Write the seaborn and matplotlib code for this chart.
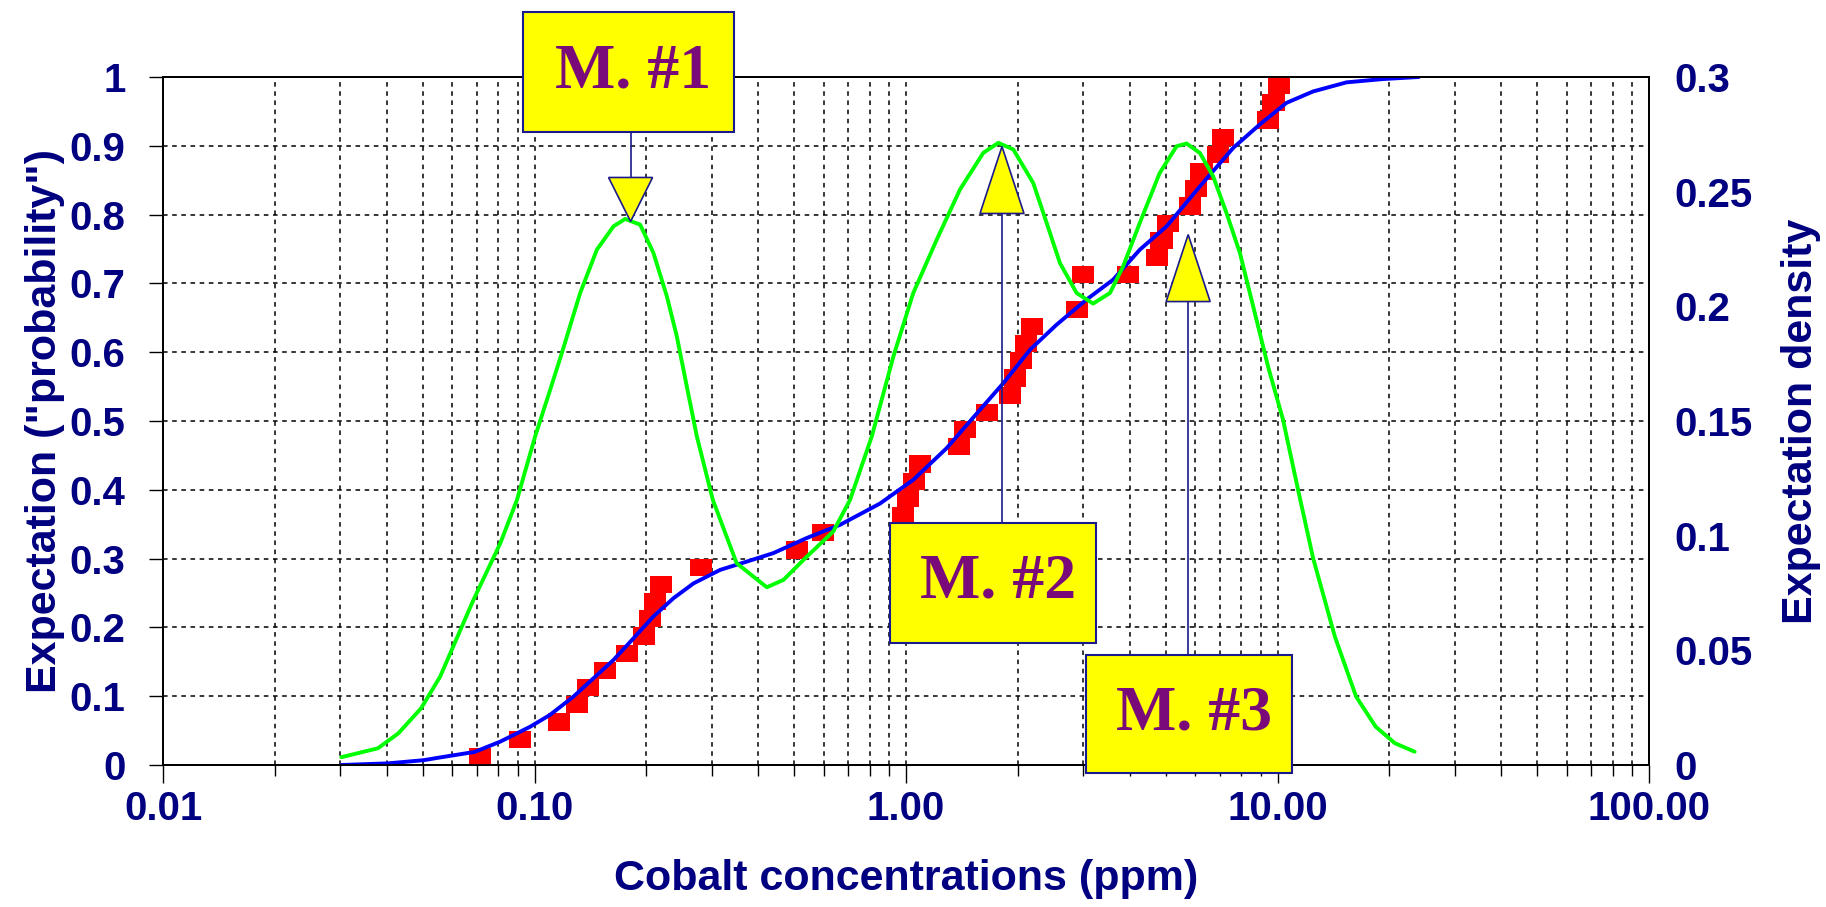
import numpy as np
import pandas as pd
import matplotlib
matplotlib.use("Agg")
import matplotlib.pyplot as plt
import seaborn as sns
from matplotlib.patches import Rectangle, Polygon
from matplotlib.lines import Line2D
from matplotlib.markers import MarkerStyle
from matplotlib.path import Path
from matplotlib.ticker import FixedLocator, LogLocator, NullFormatter

# --- values ---
# samples (red squares): concentration (ppm) and plotting position
sample_x = [0.0714, 0.0915, 0.1166, 0.130, 0.1395, 0.1547, 0.1776, 0.1968, 0.2043, 0.2112,
            0.2193, 0.2804, 0.508, 0.599, 0.982, 1.014, 1.052, 1.089, 1.389, 1.438,
            1.654, 1.904, 1.964, 2.04, 2.10, 2.18, 2.88, 2.99, 3.95, 4.73,
            4.875, 5.06, 5.81, 6.02, 6.24, 6.90, 7.14, 9.43, 9.75, 10.1]
sample_p = [0.0125, 0.0375, 0.0625, 0.0875, 0.1125, 0.1375, 0.1625, 0.1875, 0.2125, 0.2375,
            0.2625, 0.2875, 0.3125, 0.3375, 0.3625, 0.3875, 0.4125, 0.4375, 0.4625, 0.4875,
            0.5125, 0.5375, 0.5625, 0.5875, 0.6125, 0.6375, 0.6625, 0.7125, 0.7125, 0.7375,
            0.7625, 0.7875, 0.8125, 0.8375, 0.8625, 0.8875, 0.9125, 0.9375, 0.9625, 0.9875]

# fitted expectation (blue curve)
cdf_x = [0.0302, 0.0404, 0.0503, 0.0557, 0.069, 0.0809, 0.0974, 0.110, 0.1273, 0.1441,
         0.1632, 0.1846, 0.209, 0.2366, 0.268, 0.316, 0.373, 0.4396, 0.541, 0.664,
         0.851, 1.046, 1.287, 1.58, 1.828, 2.157, 2.543, 3.06, 3.61, 4.26,
         5.03, 6.18, 7.60, 8.96, 10.57, 12.47, 15.33, 19.2, 24.0]
cdf_p = [0.0, 0.0024, 0.007, 0.011, 0.019, 0.034, 0.0557, 0.0727, 0.0994, 0.126,
         0.1527, 0.184, 0.216, 0.2424, 0.264, 0.2836, 0.2957, 0.308, 0.33, 0.349,
         0.380, 0.4145, 0.4606, 0.516, 0.555, 0.6036, 0.64, 0.6764, 0.7054, 0.749,
         0.783, 0.841, 0.897, 0.931, 0.9624, 0.979, 0.9922, 0.997, 1.0]

# expectation density (green curve, right axis)
dens_x = [0.0302, 0.0379, 0.043, 0.0495, 0.0557, 0.0685, 0.0809, 0.0897, 0.1004, 0.1102,
          0.1185, 0.1327, 0.1472, 0.1632, 0.1754, 0.1925, 0.209, 0.2271, 0.2416, 0.257,
          0.2735, 0.302, 0.350, 0.422, 0.4677, 0.541, 0.637, 0.707, 0.809, 0.925,
          1.046, 1.21, 1.397, 1.614, 1.772, 1.945, 2.20, 2.391, 2.596, 2.879,
          3.19, 3.54, 3.84, 4.26, 4.82, 5.35, 5.69, 6.18, 6.71, 7.29,
          7.92, 8.60, 9.43, 10.35, 11.36, 12.47, 14.27, 16.28, 18.38, 20.7, 23.4]
dens_y = [0.0034, 0.0073, 0.0138, 0.0247, 0.0385, 0.072, 0.0967, 0.1156, 0.1433, 0.1636,
          0.1797, 0.2058, 0.2247, 0.2349, 0.2381, 0.2356, 0.2233, 0.2044, 0.1869, 0.1651,
          0.1433, 0.1156, 0.088, 0.0775, 0.0807, 0.0909, 0.1018, 0.1156, 0.1433, 0.1782,
          0.2058, 0.2291, 0.2509, 0.2669, 0.2713, 0.2684, 0.2538, 0.2364, 0.2189, 0.2058,
          0.2012, 0.2058, 0.2174, 0.2364, 0.2582, 0.2698, 0.271, 0.2669, 0.2567, 0.2407,
          0.2233, 0.2, 0.1738, 0.1505, 0.12, 0.0902, 0.056, 0.0298, 0.0167, 0.0095, 0.0058]

# modes marked by the yellow arrows
mode_x = [0.1814, 1.813, 5.748]
mode_tip = [0.790, 0.899, 0.771]
mode_labels = ["M. #1", "M. #2", "M. #3"]

x_ticks = [0.01, 0.1, 1, 10, 100]
x_ticklabels = ["0.01", "0.10", "1.00", "10.00", "100.00"]
left_ticks = [0, 0.1, 0.2, 0.3, 0.4, 0.5, 0.6, 0.7, 0.8, 0.9, 1]
left_ticklabels = ["0", "0.1", "0.2", "0.3", "0.4", "0.5", "0.6", "0.7", "0.8", "0.9", "1"]
right_ticks = [0, 0.05, 0.1, 0.15, 0.2, 0.25, 0.3]
right_ticklabels = ["0", "0.05", "0.1", "0.15", "0.2", "0.25", "0.3"]

samples = pd.DataFrame({"x": sample_x, "p": sample_p})
cdf = pd.DataFrame({"x": cdf_x, "p": cdf_p})
dens = pd.DataFrame({"x": dens_x, "d": dens_y})

NAVY = "#000080"
W, H = 1826, 907

sns.set_theme(style="white")
plt.rcParams['font.family'] = ['Liberation Sans', 'DejaVu Sans']

fig = plt.figure(figsize=(W / 100, H / 100), dpi=100)
ax = fig.add_axes([163 / W, 1 - 765 / H, (1649 - 163) / W, (765 - 77) / H])
ax.set_xscale("log")
ax.set_xlim(0.01, 100)
ax.set_ylim(0, 1)

# grid
ax.xaxis.set_major_locator(FixedLocator(x_ticks))
ax.xaxis.set_minor_locator(LogLocator(base=10, subs=range(2, 10)))
ax.xaxis.set_minor_formatter(NullFormatter())
ax.set_xticklabels(x_ticklabels)
ax.set_yticks(left_ticks)
ax.set_yticklabels(left_ticklabels)
grid_kw = dict(color="black", linestyle=(0, (3, 3)), linewidth=1.1)
ax.grid(True, which="both", axis="x", **grid_kw)
ax.grid(True, which="major", axis="y", **grid_kw)
ax.set_axisbelow(True)

rect = MarkerStyle(Path([(-1, -0.77), (1, -0.77), (1, 0.77), (-1, 0.77), (-1, -0.77)],
                        [1, 2, 2, 2, 79]))
sns.scatterplot(data=samples, x="x", y="p", marker=rect, s=255, color="#ff0000",
                edgecolor="none", linewidth=0, ax=ax, zorder=3)
sns.lineplot(data=cdf, x="x", y="p", color="#0000ff", linewidth=2.8, sort=False,
             estimator=None, ax=ax, zorder=4)

ax2 = ax.twinx()
sns.lineplot(data=dens, x="x", y="d", color="#00ff00", linewidth=2.8, sort=False,
             estimator=None, ax=ax2, zorder=5)
ax2.set_ylim(0, 0.3)
ax2.set_yticks(right_ticks)
ax2.set_yticklabels(right_ticklabels)
ax2.grid(False)

for a in (ax, ax2):
    for s in a.spines.values():
        s.set_color("black")
        s.set_linewidth(1.3)

ax.tick_params(axis="x", which="major", length=13, width=1, color="black", direction="out",
               labelsize=29, labelcolor=NAVY, pad=5, bottom=True)
ax.tick_params(axis="x", which="minor", length=8, width=1, color="black", direction="out",
               bottom=True)
ax.tick_params(axis="y", which="major", length=10, width=1, color="black", direction="out",
               labelsize=29, labelcolor=NAVY, pad=17, left=True)
ax2.tick_params(axis="y", which="major", length=0, labelsize=29, labelcolor=NAVY, pad=18)
for lab in ax.get_xticklabels() + ax.get_yticklabels() + ax2.get_yticklabels():
    lab.set_fontweight("bold")

ax.set_xlabel("Cobalt concentrations (ppm)", fontsize=31, fontweight="bold", color=NAVY)
ax.xaxis.set_label_coords(0.5, (765 - 879) / 688)
ax.xaxis.label.set_va("center")
ax.set_ylabel('Expectation ("probability")', fontsize=31, fontweight="bold", color=NAVY)
ax.yaxis.set_label_coords((45 - 163) / 1486, 0.5)
ax.yaxis.label.set_va("center")
ax2.set_ylabel("Expectation density", fontsize=31, fontweight="bold", color=NAVY,
               rotation=90)
ax2.yaxis.set_label_coords((1801 - 163) / 1486, 0.5)
ax2.yaxis.label.set_va("center")

# --- mode annotations (boxes in pixel layout, arrows tied to the data) ---
fig.canvas.draw()


def px(x, y):
    # top-left pixel coords -> figure fraction
    return x / W, 1 - y / H


boxes = [(523, 12, 211, 120), (890, 523, 206, 120), (1086, 655, 206, 118)]
half_w, head_len = 22, 44
for mx, tip, label, (bx, by, bw, bh) in zip(mode_x, mode_tip, mode_labels, boxes):
    tx, ty = ax.transData.transform((mx, tip))
    ty = H - ty
    if by + bh < ty:  # box above: arrow points down
        base = ty - head_len
        line_y = (by + bh, base)
    else:  # box below: arrow points up
        base = ty + head_len + 23
        line_y = (by, base)
    fig.add_artist(Line2D([tx / W, tx / W], [1 - line_y[0] / H, 1 - line_y[1] / H],
                          transform=fig.transFigure, color="#1a1a8c", linewidth=1.2,
                          zorder=6))
    tri = Polygon([px(tx - half_w, base), px(tx + half_w, base), px(tx, ty)], closed=True,
                  transform=fig.transFigure, facecolor="#ffff00", edgecolor="#1a1a8c",
                  linewidth=1.2, zorder=7)
    fig.add_artist(tri)
    r = Rectangle(px(bx, by + bh), bw / W, bh / H, transform=fig.transFigure,
                  facecolor="#ffff00", edgecolor="#1a1a8c", linewidth=1.5, zorder=8)
    fig.add_artist(r)
    cx, cy = px(bx + bw / 2 + 5, by + bh / 2)
    fig.text(cx, cy, label, ha="center", va="center", fontsize=46, fontweight="bold",
             family=["Liberation Serif", "DejaVu Serif"], color="#7a0a7a", zorder=9)

fig.savefig("out.png", dpi=100)
